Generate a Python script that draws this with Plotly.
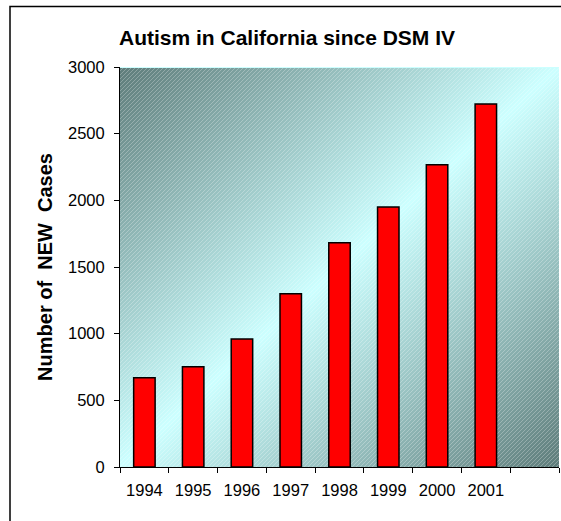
import base64
import plotly.graph_objects as go

# ---- data ----
years = ["1994", "1995", "1996", "1997", "1998", "1999", "2000", "2001"]
new_cases = [670, 752, 960, 1300, 1682, 1950, 2267, 2722]
y_ticks = [0, 500, 1000, 1500, 2000, 2500, 3000]
title_text = "Autism in California since DSM IV"
y_title = "Number of\u00a0\u00a0NEW\u00a0\u00a0Cases"

# ---- layout geometry ----
W, H = 561, 521
M = dict(l=120, r=2, t=67, b=54, pad=0)
PW = W - M["l"] - M["r"]
PH = H - M["t"] - M["b"]
FONT = "Arial, 'Liberation Sans', Helvetica, sans-serif"

# background: diagonal gradient with fine hatching (Excel-like fill)
svg = f'''<svg xmlns="http://www.w3.org/2000/svg" width="{PW}" height="{PH}" viewBox="0 0 {PW} {PH}" preserveAspectRatio="none">
<defs>
<linearGradient id="g" x1="0" y1="0" x2="1" y2="1">
<stop offset="0" stop-color="#5E7C7A"/>
<stop offset="0.5" stop-color="#CCFFFF"/>
<stop offset="1" stop-color="#5E7C7A"/>
</linearGradient>
<pattern id="h" width="4" height="4" patternUnits="userSpaceOnUse">
<path d="M-1,1 L1,-1 M0,4 L4,0 M3,5 L5,3" stroke="#FFFFFF" stroke-opacity="0.3" stroke-width="0.9"/>
</pattern>
</defs>
<rect width="{PW}" height="{PH}" fill="url(#g)"/>
<rect width="{PW}" height="{PH}" fill="url(#h)"/>
<rect x="0" y="0" width="{PW}" height="1" fill="#CCFFFF"/>
</svg>'''
svg_uri = "data:image/svg+xml;base64," + base64.b64encode(svg.encode()).decode()

fig = go.Figure()
fig.add_trace(go.Bar(
    x=years, y=new_cases, width=0.44,
    marker=dict(color="#FF0000", line=dict(color="#000000", width=1.5)),
    showlegend=False,
))

fig.update_layout(
    width=W, height=H, margin=M,
    paper_bgcolor="#FFFFFF", plot_bgcolor="rgba(0,0,0,0)",
    font=dict(family=FONT, color="#000000"),
    title=dict(text=title_text, x=287 / W, xref="container", xanchor="center",
               y=1 - 38 / H, yref="container", yanchor="middle",
               font=dict(family=FONT, size=21, color="#000000", weight="bold")),
    xaxis=dict(type="category", categoryorder="array", categoryarray=years + [" "],
               range=[-0.5, len(years) + 0.5], tickson="boundaries",
               ticks="outside", ticklen=5, tickcolor="#000000", tickwidth=1,
               showline=True, linecolor="#000000", linewidth=1,
               showgrid=False, zeroline=False, ticklabelstandoff=8,
               tickfont=dict(family=FONT, size=16.5, color="#000000")),
    yaxis=dict(range=[0, 3000], tickvals=y_ticks,
               ticks="outside", ticklen=5, tickcolor="#000000", tickwidth=1,
               showline=True, linecolor="#000000", linewidth=1,
               showgrid=False, zeroline=False, ticklabelstandoff=6,
               tickfont=dict(family=FONT, size=16.5, color="#000000"),
               title=dict(text=y_title, standoff=9,
                          font=dict(family=FONT, size=20, color="#000000", weight="bold"))),
    images=[dict(source=svg_uri, xref="paper", yref="paper", x=0, y=1,
                 sizex=1, sizey=1, sizing="stretch", xanchor="left", yanchor="top",
                 layer="below")],
    shapes=[dict(type="rect", xref="paper", yref="paper",
                 x0=(10 - M["l"]) / PW, x1=1.3,
                 y0=-0.5, y1=(M["t"] + PH - 6.5) / PH,
                 line=dict(color="#000000", width=1.5), fillcolor="rgba(0,0,0,0)",
                 layer="below")],
)

fig.write_html("out.html")
